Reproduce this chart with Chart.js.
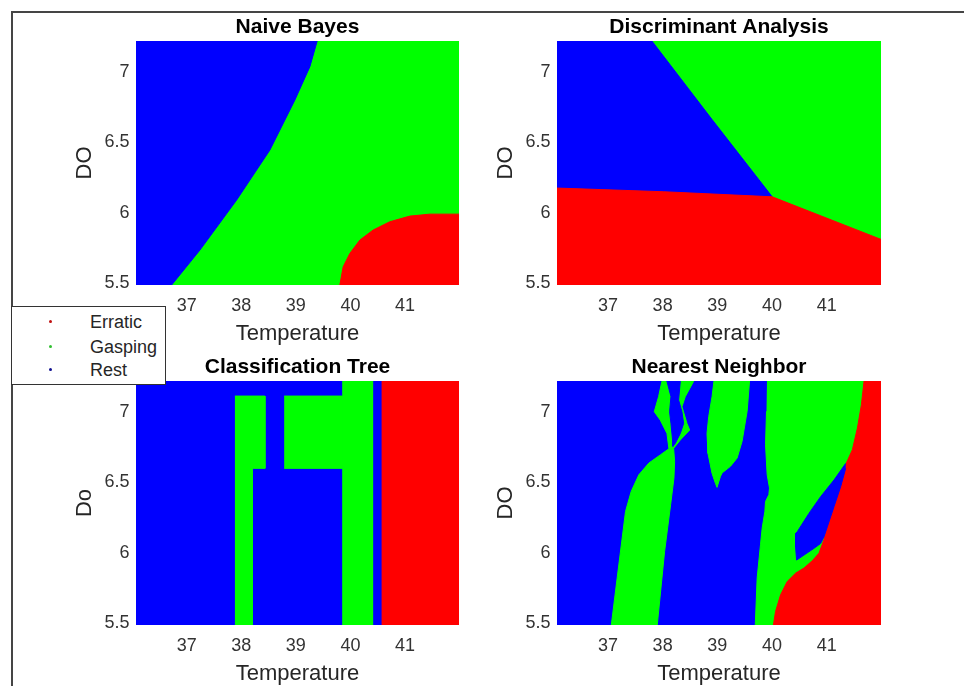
<!DOCTYPE html>
<html>
<head>
<meta charset="utf-8">
<script src="https://cdn.jsdelivr.net/npm/chart.js@4.4.1/dist/chart.umd.min.js"></script>
<style>
  html, body { margin: 0; padding: 0; background: #fff; width: 964px; height: 686px; overflow: hidden; position: relative; }
  canvas { position: absolute; }
  #frame { position: absolute; left: 11px; top: 11px; width: 980px; height: 700px; border-top: 2px solid #454545; border-left: 2px solid #454545; }
  #legend { position: absolute; left: 11px; top: 306px; width: 153px; height: 77px; border: 1px solid #333; background: #fff; z-index: 5;
            font-family: 'Liberation Sans', Arial, sans-serif; font-size: 18px; color: #262626; }
  #legend .row { position: absolute; left: 0; height: 24px; line-height: 24px; width: 153px; }
  #legend .dot { position: absolute; left: 37px; top: 10px; width: 3px; height: 3px; border-radius: 50%; }
  #legend .lbl { position: absolute; left: 78px; top: 0; }
</style>
</head>
<body>
<div id="frame"></div>
<canvas id="cNB" width="440" height="340" style="left:40px;top:12px"></canvas>
<canvas id="cDA" width="440" height="340" style="left:461px;top:12px"></canvas>
<canvas id="cCT" width="440" height="340" style="left:40px;top:352px"></canvas>
<canvas id="cNN" width="440" height="340" style="left:461px;top:352px"></canvas>
<div id="legend"></div>
<script>
// ---------- data ----------
const classNames = ['Erratic', 'Gasping', 'Rest'];
const xTicks = [37, 38, 39, 40, 41];
const yTicks = [5.5, 6, 6.5, 7];
const xLimits = [36.07, 41.99];
const yLimits = [5.486, 7.218];
// full plotting domain (extends past limits, clipped by the axes)
const domain = [[36.0, 7.3], [42.1, 7.3], [42.1, 5.4], [36.0, 5.4]];

// Naive Bayes regions [temperature, DO]
const nbRest = [[36.0, 7.3], [39.45, 7.3], [39.391, 7.218], [39.257, 7.036], [38.982, 6.799], [38.524, 6.444],
  [37.914, 6.089], [37.242, 5.734], [36.723, 5.486], [36.54, 5.4], [36.0, 5.4]];
const nbErratic = [[39.806, 5.4], [39.806, 5.486], [39.867, 5.615], [39.989, 5.710], [40.173, 5.805], [40.416, 5.876],
  [40.722, 5.935], [41.088, 5.975], [41.455, 5.989], [42.1, 5.989], [42.1, 5.4]];

// Discriminant Analysis regions
const daRest = [[36.0, 7.3], [37.641, 7.3], [37.804, 7.218], [38.900, 6.662], [40.002, 6.112],
  [38.017, 6.148], [36.0, 6.175]];
const daErratic = [[36.0, 6.175], [38.017, 6.148], [40.002, 6.112], [42.1, 5.793], [42.1, 5.4], [36.0, 5.4]];

// Classification Tree regions
const ctGasping1 = [[37.883, 7.111], [38.433, 7.111], [38.433, 6.598], [38.200, 6.598], [38.200, 5.4], [37.883, 5.4]];
const ctGasping2 = [[38.786, 7.111], [39.849, 7.111], [39.849, 6.598], [38.786, 6.598]];
const ctGasping3 = [[39.849, 7.3], [40.406, 7.3], [40.406, 5.4], [39.849, 5.4]];
const ctErratic = [[40.571, 7.3], [42.1, 7.3], [42.1, 5.4], [40.571, 5.4]];

// Nearest Neighbor regions
const nnGaspingA = [[37.035, 5.4], [37.169, 5.819], [37.322, 6.292], [37.425, 6.434], [37.566, 6.553], [37.749, 6.636],
  [37.963, 6.695], [38.115, 6.737], [38.079, 6.846], [37.956, 6.941], [37.847, 7.000], [37.926, 7.107], [37.987, 7.216],
  [37.999, 7.3], [38.665, 7.3], [38.567, 7.216], [38.414, 7.107], [38.353, 7.036], [38.445, 6.917], [38.494, 6.870],
  [38.323, 6.799], [38.201, 6.740], [38.219, 6.647], [38.207, 6.529], [38.146, 6.340], [38.036, 6.008], [37.880, 5.4]];
const nnRestSliver = [[38.079, 7.3], [38.079, 7.216], [38.152, 7.107], [38.127, 7.000], [38.152, 6.917], [38.182, 6.799],
  [38.188, 6.754], [38.231, 6.775], [38.323, 6.846], [38.384, 6.917], [38.353, 7.000], [38.292, 7.083], [38.323, 7.216],
  [38.323, 7.3]];
const nnGaspingB = [[38.964, 7.3], [38.903, 7.107], [38.842, 6.965], [38.811, 6.846], [38.829, 6.704], [38.903, 6.562],
  [38.964, 6.492], [38.994, 6.463], [39.055, 6.539], [39.086, 6.565], [39.239, 6.612], [39.361, 6.671], [39.452, 6.790],
  [39.544, 7.003], [39.605, 7.3]];
const nnGaspingC = [[39.910, 7.3], [42.1, 7.3], [42.1, 5.4], [39.684, 5.4], [39.727, 5.819], [39.788, 6.056],
  [39.819, 6.174], [39.868, 6.292], [39.880, 6.363], [39.941, 6.411], [39.953, 6.458], [39.910, 6.553], [39.880, 6.766],
  [39.898, 7.003]];
const nnErratic = [[41.681, 7.3], [42.1, 7.3], [42.1, 5.4], [39.990, 5.4], [40.063, 5.582], [40.155, 5.700],
  [40.277, 5.795], [40.429, 5.854], [40.582, 5.890], [40.734, 5.942], [40.857, 5.996], [40.948, 6.091], [41.040, 6.245],
  [41.162, 6.387], [41.272, 6.529], [41.357, 6.636], [41.467, 6.730], [41.559, 6.884], [41.632, 7.050], [41.681, 7.220]];
const nnRestIsland = [[41.345, 6.633], [41.131, 6.515], [40.887, 6.397], [40.673, 6.278], [40.460, 6.148], [40.429, 6.136],
  [40.429, 6.041], [40.448, 5.947], [40.582, 5.982], [40.765, 6.030], [40.887, 6.065], [40.948, 6.112], [41.009, 6.183],
  [41.131, 6.326], [41.253, 6.468], [41.345, 6.598]];

// ---------- styles ----------
const COL = { Erratic: '#ff0000', Gasping: '#00ff00', Rest: '#0000ff' };
const DOT = { Erratic: '#c01010', Gasping: '#30c030', Rest: '#101090' };
const FONT = "'Liberation Sans', Arial, sans-serif";

function makeChart(id, title, yTitle, layers, rightPad) {
  const n = layers.length;
  new Chart(document.getElementById(id), {
    type: 'scatter',
    data: {
      datasets: layers.map((l, i) => ({
        label: l[0],
        data: l[1].map(p => ({ x: p[0], y: p[1] })),
        showLine: true,
        fill: 'shape',
        backgroundColor: COL[l[0]],
        borderColor: COL[l[0]],
        borderWidth: 1,
        pointRadius: 0,
        pointHoverRadius: 0,
        tension: 0,
        clip: 0,
        order: n - i
      }))
    },
    options: {
      responsive: false,
      animation: false,
      events: [],
      layout: { padding: { left: 0, right: rightPad, top: 0, bottom: 0 } },
      plugins: {
        legend: { display: false },
        tooltip: { enabled: false },
        title: { display: true, text: title, fullSize: false, color: '#000',
                 font: { family: FONT, size: 21, weight: 'bold' }, padding: { top: 2.4, bottom: 1.4 } }
      },
      scales: {
        x: {
          type: 'linear', min: xLimits[0], max: xLimits[1],
          afterBuildTicks: s => { s.ticks = xTicks.map(v => ({ value: v })); },
          afterFit: s => { s.height = 67; },
          grid: { display: false, drawTicks: false }, border: { display: false },
          ticks: { font: { family: FONT, size: 18 }, color: '#333', padding: 10.7, autoSkip: false, maxRotation: 0,
                   callback: v => String(v) },
          title: { display: true, text: 'Temperature', color: '#262626', font: { family: FONT, size: 22 },
                   padding: { top: 0, bottom: 4.8 } }
        },
        y: {
          type: 'linear', min: yLimits[0], max: yLimits[1],
          afterBuildTicks: s => { s.ticks = yTicks.map(v => ({ value: v })); },
          afterFit: s => { s.width = 96; },
          grid: { display: false, drawTicks: false }, border: { display: false },
          ticks: { font: { family: FONT, size: 18 }, color: '#333', padding: 6.5, autoSkip: false,
                   callback: v => String(v) },
          title: { display: true, text: yTitle, color: '#262626', font: { family: FONT, size: 22 },
                   padding: { top: 32.1, bottom: 0 } }
        }
      }
    }
  });
}

makeChart('cNB', 'Naive Bayes', 'DO', [['Gasping', domain], ['Rest', nbRest], ['Erratic', nbErratic]], 21);
makeChart('cDA', 'Discriminant Analysis', 'DO', [['Gasping', domain], ['Rest', daRest], ['Erratic', daErratic]], 20);
makeChart('cCT', 'Classification Tree', 'Do', [['Rest', domain], ['Gasping', ctGasping1], ['Gasping', ctGasping2],
  ['Gasping', ctGasping3], ['Erratic', ctErratic]], 21);
makeChart('cNN', 'Nearest Neighbor', 'DO', [['Rest', domain], ['Gasping', nnGaspingA], ['Rest', nnRestSliver],
  ['Gasping', nnGaspingB], ['Gasping', nnGaspingC], ['Erratic', nnErratic], ['Rest', nnRestIsland]], 20);

// legend
const legendRowsY = [3, 28, 51];
const lg = document.getElementById('legend');
classNames.forEach((c, i) => {
  const row = document.createElement('div');
  row.className = 'row';
  row.style.top = legendRowsY[i] + 'px';
  const dot = document.createElement('span');
  dot.className = 'dot';
  dot.style.background = DOT[c];
  const lbl = document.createElement('span');
  lbl.className = 'lbl';
  lbl.textContent = c;
  row.appendChild(dot); row.appendChild(lbl);
  lg.appendChild(row);
});
</script>
</body>
</html>
